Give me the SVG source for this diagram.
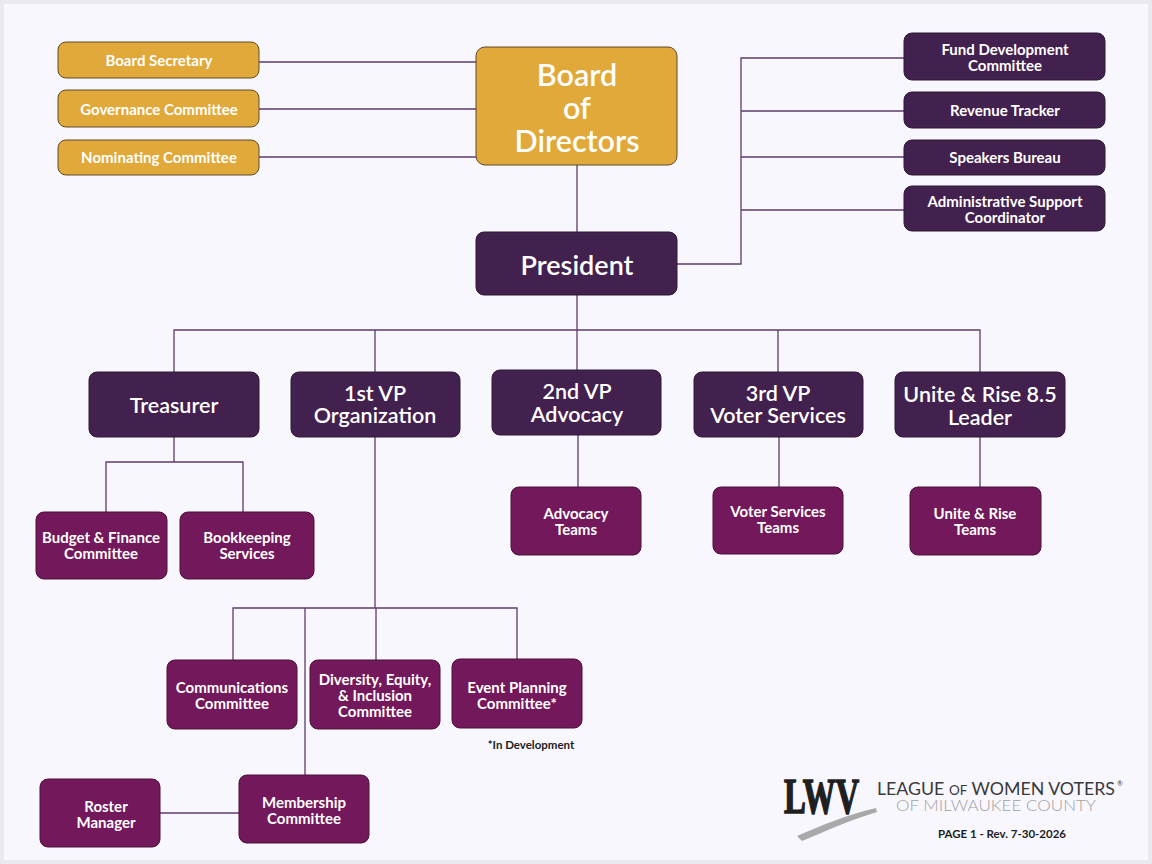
<svg xmlns="http://www.w3.org/2000/svg" width="1152" height="864" viewBox="0 0 1152 864">
<style>
.gold{fill:#e1a83a;stroke:#5e4a2c;stroke-width:1}
.dark{fill:#43214f;stroke:#2e1836;stroke-width:1}
.mag{fill:#73185a;stroke:#4a1038;stroke-width:1}
.t{font-family:Lato,"Noto Sans",sans-serif;fill:#ffffff;text-anchor:middle;dominant-baseline:central}
.s{font-size:15px;font-weight:700}
.m{font-size:21.5px;font-weight:600}
.c{fill:none;stroke:#5d3d6c;stroke-width:1.3}
</style>
<rect x="0" y="0" width="1152" height="864" fill="#e9e9ef"/>
<rect x="4" y="4" width="1144" height="856" fill="#f8f7fd"/>
<g id="connectors" class="c">
<path d="M259 62H476M259 109H476M259 157H476"/>
<path d="M577 165V232"/>
<path d="M677 264H741V58H904M741 111H904M741 157H904M741 210H904"/>
<path d="M577 295V372M174 372V330H980V372M375 330V372M778 330V372"/>
<path d="M174 437V462M106 512V462H243V512"/>
<path d="M578 435V487M779 437V487M980 437V487"/>
<path d="M375 437V608M233 660V608H517V659M376 608V660M305 608V775"/>
<path d="M160 813H239"/>
</g>
<g id="board-secretary"><rect class="gold" x="58" y="42" width="201" height="36" rx="8"/><text class="t s" x="159" y="60">Board Secretary</text></g>
<g id="governance"><rect class="gold" x="58" y="90" width="201" height="37" rx="8"/><text class="t s" x="159" y="109">Governance Committee</text></g>
<g id="nominating"><rect class="gold" x="58" y="140" width="201" height="35" rx="8"/><text class="t s" x="159" y="157">Nominating Committee</text></g>
<g id="board"><rect class="gold" x="476" y="47" width="201" height="118" rx="9"/><text class="t" style="font-size:30.5px;font-weight:600" x="577"><tspan x="577" y="74">Board</tspan><tspan x="577" y="107">of</tspan><tspan x="577" y="140">Directors</tspan></text></g>
<g id="president"><rect class="dark" x="476" y="232" width="201" height="63" rx="8"/><text class="t" style="font-size:27px;font-weight:600" x="577" y="264">President</text></g>
<g id="fund-dev"><rect class="dark" x="904" y="33" width="201" height="47" rx="8"/><text class="t s"><tspan x="1005" y="49">Fund Development</tspan><tspan x="1005" y="65">Committee</tspan></text></g>
<g id="revenue"><rect class="dark" x="904" y="92" width="201" height="36" rx="8"/><text class="t s" x="1005" y="110">Revenue Tracker</text></g>
<g id="speakers"><rect class="dark" x="904" y="140" width="201" height="35" rx="8"/><text class="t s" x="1005" y="157">Speakers Bureau</text></g>
<g id="admin"><rect class="dark" x="904" y="186" width="201" height="45" rx="8"/><text class="t s"><tspan x="1005" y="201">Administrative Support</tspan><tspan x="1005" y="217">Coordinator</tspan></text></g>
<g id="treasurer"><rect class="dark" x="89" y="372" width="170" height="65" rx="8"/><text class="t m" x="174" y="405">Treasurer</text></g>
<g id="vp1"><rect class="dark" x="291" y="372" width="169" height="65" rx="8"/><text class="t m"><tspan x="375" y="393">1st VP</tspan><tspan x="375" y="415">Organization</tspan></text></g>
<g id="vp2"><rect class="dark" x="492" y="370" width="169" height="65" rx="8"/><text class="t m"><tspan x="577" y="391">2nd VP</tspan><tspan x="577" y="414">Advocacy</tspan></text></g>
<g id="vp3"><rect class="dark" x="694" y="372" width="169" height="65" rx="8"/><text class="t m"><tspan x="778" y="393">3rd VP</tspan><tspan x="778" y="415">Voter Services</tspan></text></g>
<g id="unite-leader"><rect class="dark" x="895" y="372" width="170" height="65" rx="8"/><text class="t m"><tspan x="980" y="394">Unite &amp; Rise 8.5</tspan><tspan x="980" y="417">Leader</tspan></text></g>
<g id="budget"><rect class="mag" x="36" y="512" width="131" height="67" rx="8"/><text class="t s"><tspan x="101" y="537">Budget &amp; Finance</tspan><tspan x="101" y="553">Committee</tspan></text></g>
<g id="bookkeeping"><rect class="mag" x="180" y="512" width="134" height="67" rx="8"/><text class="t s"><tspan x="247" y="537">Bookkeeping</tspan><tspan x="247" y="553">Services</tspan></text></g>
<g id="advocacy-teams"><rect class="mag" x="511" y="487" width="130" height="68" rx="8"/><text class="t s"><tspan x="576" y="513">Advocacy</tspan><tspan x="576" y="529">Teams</tspan></text></g>
<g id="voter-teams"><rect class="mag" x="713" y="487" width="130" height="67" rx="8"/><text class="t s"><tspan x="778" y="511">Voter Services</tspan><tspan x="778" y="527">Teams</tspan></text></g>
<g id="unite-teams"><rect class="mag" x="910" y="487" width="131" height="68" rx="8"/><text class="t s"><tspan x="975" y="513">Unite &amp; Rise</tspan><tspan x="975" y="529">Teams</tspan></text></g>
<g id="communications"><rect class="mag" x="167" y="660" width="130" height="69" rx="8"/><text class="t s"><tspan x="232" y="687">Communications</tspan><tspan x="232" y="703">Committee</tspan></text></g>
<g id="dei"><rect class="mag" x="310" y="660" width="130" height="69" rx="8"/><text class="t s"><tspan x="375" y="679">Diversity, Equity,</tspan><tspan x="375" y="695">&amp; Inclusion</tspan><tspan x="375" y="711">Committee</tspan></text></g>
<g id="event-planning"><rect class="mag" x="452" y="659" width="130" height="69" rx="8"/><text class="t s"><tspan x="517" y="687">Event Planning</tspan><tspan x="517" y="703">Committee*</tspan></text></g>
<g id="membership"><rect class="mag" x="239" y="775" width="130" height="68" rx="8"/><text class="t s"><tspan x="304" y="802">Membership</tspan><tspan x="304" y="818">Committee</tspan></text></g>
<g id="roster"><rect class="mag" x="40" y="779" width="120" height="68" rx="8"/><text class="t s"><tspan x="106" y="806">Roster</tspan><tspan x="106" y="822">Manager</tspan></text></g>
<text x="531" y="749" text-anchor="middle" style="font-family:Lato,'Noto Sans',sans-serif;font-size:11.5px;font-weight:700;fill:#1e1e1e">*In Development</text>
<g id="logo">
<path d="M797 836 C820 826 846 815 876 808 L877 812 C850 820 826 831 802 841 Z" fill="#a9a9a9"/>
<text transform="translate(784 813) scale(0.655 1)" x="0" y="0" style="font-family:'Liberation Serif',serif;font-size:50px;font-weight:700;fill:#1f1f1f;stroke:#1f1f1f;stroke-width:1.6">LWV</text>
<text style="font-family:Lato,'Noto Sans',sans-serif;font-size:16.5px;font-weight:400;fill:#3a3a3a"><tspan x="877" y="795" textLength="238" lengthAdjust="spacingAndGlyphs">LEAGUE <tspan style="font-size:12.5px">OF</tspan> WOMEN VOTERS</tspan><tspan x="1117" y="786" style="font-size:7px">®</tspan><tspan x="896" y="811" textLength="200" lengthAdjust="spacingAndGlyphs" style="font-size:16px;font-weight:300;fill:#a2a2a2">OF MILWAUKEE COUNTY</tspan></text>
<text x="1002" y="838" text-anchor="middle" style="font-family:Lato,'Noto Sans',sans-serif;font-size:11.5px;font-weight:700;fill:#1e1e1e">PAGE 1 - Rev. 7-30-2026</text>
</g>
</svg>
